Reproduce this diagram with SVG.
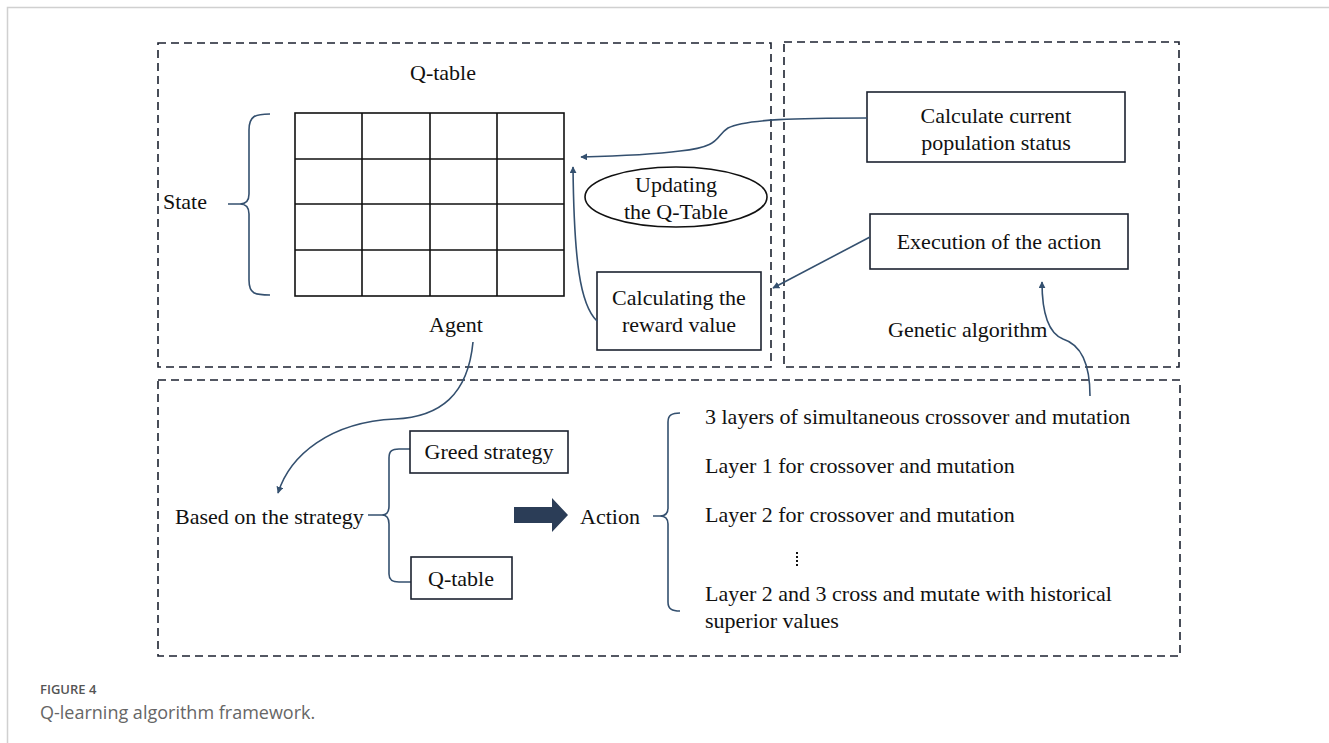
<svg xmlns="http://www.w3.org/2000/svg" width="1329" height="743" viewBox="0 0 1329 743">
<defs>
<style>
.t{font-family:"Liberation Serif","Times New Roman",serif;font-size:22px;fill:#111;}
.m{text-anchor:middle;}
.dash{fill:none;stroke:#1c2230;stroke-width:1.6;stroke-dasharray:8,5;}
.box{fill:#fff;stroke:#1c2230;stroke-width:1.6;}
.grid{stroke:#111;stroke-width:1.6;fill:none;}
.con{fill:none;stroke:#34506f;stroke-width:1.6;}
.cap1{font-family:"Open Sans","Noto Sans",sans-serif;font-size:13px;fill:#555;font-weight:600;}
.cap2{font-family:"Open Sans","Noto Sans",sans-serif;font-size:18px;fill:#666;}
</style>
<marker id="ah" viewBox="0 0 10 10" refX="9" refY="5" markerWidth="7" markerHeight="7" markerUnits="userSpaceOnUse" orient="auto">
<path d="M0,0 L10,5 L0,10 z" fill="#34506f"/>
</marker>
</defs>
<rect width="1329" height="743" fill="#fff"/>
<path d="M7.5,743 V7.5 H1329" fill="none" stroke="#d0d0d0" stroke-width="1.5"/>

<g id="frames">
<rect class="dash" x="158" y="43" width="613" height="324"/>
<rect class="dash" x="784" y="42" width="395" height="325"/>
<rect class="dash" x="158" y="380" width="1022" height="276"/>
</g>

<g id="qtable">
<text class="t m" x="443" y="80">Q-table</text>
<rect class="grid" x="295" y="113" width="269" height="183"/>
<path class="grid" d="M362,113V296 M430,113V296 M497,113V296 M295,159H564 M295,204H564 M295,250H564"/>
<text class="t" x="163" y="209">State</text>
<path class="con" d="M270,114 C255,114 249,116 249,130 L249,194 C249,202 245,204 240,204 L228,204 M240,204 C245,204 249,206 249,214 L249,280 C249,294 255,295 270,295"/>
<text class="t m" x="456" y="332">Agent</text>
</g>

<g id="update">
<ellipse cx="676" cy="197" rx="91" ry="30" fill="#fff" stroke="#111" stroke-width="1.6"/>
<text class="t m" x="676" y="192">Updating</text>
<text class="t m" x="676" y="219">the Q-Table</text>
</g>

<g id="reward">
<rect class="box" x="597" y="272" width="164" height="78"/>
<text class="t m" x="679" y="305">Calculating the</text>
<text class="t m" x="679" y="332">reward value</text>
</g>

<g id="population">
<rect class="box" x="867" y="92" width="258" height="70"/>
<text class="t m" x="996" y="123">Calculate current</text>
<text class="t m" x="996" y="150">population status</text>
</g>

<g id="execution">
<rect class="box" x="870" y="214" width="258" height="55"/>
<text class="t m" x="999" y="249">Execution of the action</text>
</g>
<text class="t" x="888" y="337">Genetic algorithm</text>

<g id="strategy">
<text class="t" x="175" y="524">Based on the strategy</text>
<path class="con" d="M368,515 L382,515 C387,515 389,512 389,506 L389,458 C389,451 392,449 399,449 L410,449 M382,515 C387,515 389,518 389,524 L389,574 C389,580 392,582 399,582 L411,582"/>
<rect class="box" x="410" y="431" width="158" height="42"/>
<text class="t m" x="489" y="459">Greed strategy</text>
<rect class="box" x="411" y="557" width="101" height="42"/>
<text class="t m" x="461" y="586">Q-table</text>
<path d="M514,507 H552 V498 L568,515 L552,532 V523 H514 z" fill="#2b3d57"/>
<text class="t" x="580" y="524">Action</text>
</g>

<g id="actions">
<path class="con" d="M680,413 C672,413 668,415 668,422 L668,508 C668,513 665,516 660,516 L653,516 M660,516 C665,516 668,519 668,524 L668,602 C668,609 672,611 680,611"/>
<text class="t" x="705" y="424">3 layers of simultaneous crossover and mutation</text>
<text class="t" x="705" y="473">Layer 1 for crossover and mutation</text>
<text class="t" x="705" y="522">Layer 2 for crossover and mutation</text>
<path d="M797,552 V566" stroke="#111" stroke-width="2" stroke-dasharray="2,2"/>
<text class="t" x="705" y="601">Layer 2 and 3 cross and mutate with historical</text>
<text class="t" x="705" y="628">superior values</text>
</g>

<g id="connectors">
<path class="con" marker-end="url(#ah)" d="M867,118 C800,118 745,119 728,128 C715,136 722,147 680,151 C650,155 620,156 581,157"/>
<path class="con" marker-end="url(#ah)" d="M870,237 L773,288"/>
<path class="con" marker-end="url(#ah)" d="M597,321 C580,305 574,260 573,167"/>
<path class="con" marker-end="url(#ah)" d="M473,342 C468,395 440,417 395,419 C330,422 290,455 278,493"/>
<path class="con" marker-end="url(#ah)" d="M1090,396 C1090,365 1082,345 1063,339 C1048,333 1042,312 1042,282"/>
</g>

<g id="caption">
<text class="cap1" x="40" y="694">FIGURE 4</text>
<text class="cap2" x="40" y="719">Q-learning algorithm framework.</text>
</g>
</svg>
